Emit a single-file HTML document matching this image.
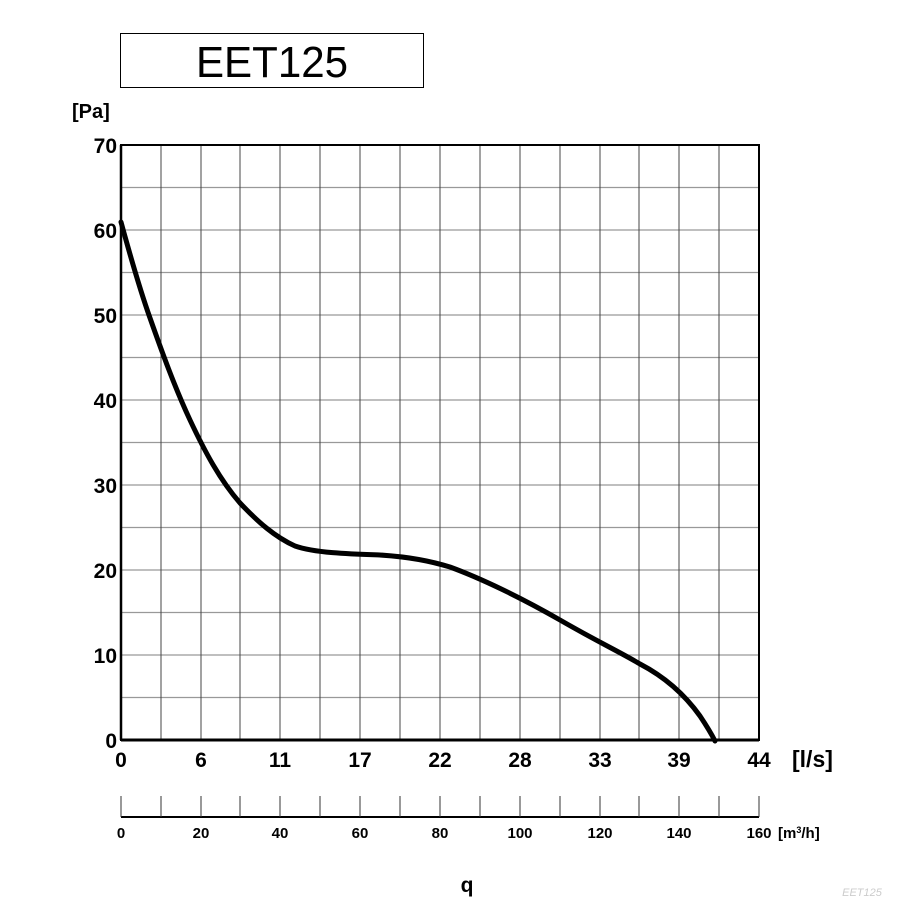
<!DOCTYPE html>
<html><head><meta charset="utf-8"><style>
body{margin:0;background:#fff;width:908px;height:909px;overflow:hidden}
svg{display:block}
text{font-family:"Liberation Sans",sans-serif}
</style></head><body>
<svg width="908" height="909" viewBox="0 0 908 909">
<rect x="120.5" y="33.5" width="303" height="54" fill="#fff" stroke="#000" stroke-width="1"/>
<text x="272" y="77" font-size="44" text-anchor="middle" textLength="152" lengthAdjust="spacingAndGlyphs">EET125</text>
<text x="72" y="118" font-size="20" font-weight="bold">[Pa]</text>
<g stroke="#999" stroke-width="1.2">
<line x1="121" x2="759" y1="187.5" y2="187.5"/><line x1="121" x2="759" y1="230" y2="230"/><line x1="121" x2="759" y1="272.5" y2="272.5"/><line x1="121" x2="759" y1="315" y2="315"/><line x1="121" x2="759" y1="357.5" y2="357.5"/><line x1="121" x2="759" y1="400" y2="400"/><line x1="121" x2="759" y1="442.5" y2="442.5"/><line x1="121" x2="759" y1="485" y2="485"/><line x1="121" x2="759" y1="527.5" y2="527.5"/><line x1="121" x2="759" y1="570" y2="570"/><line x1="121" x2="759" y1="612.5" y2="612.5"/><line x1="121" x2="759" y1="655" y2="655"/><line x1="121" x2="759" y1="697.5" y2="697.5"/>
</g>
<g stroke="#444" stroke-width="1">
<line x1="161" x2="161" y1="145" y2="740"/><line x1="201" x2="201" y1="145" y2="740"/><line x1="240" x2="240" y1="145" y2="740"/><line x1="280" x2="280" y1="145" y2="740"/><line x1="320" x2="320" y1="145" y2="740"/><line x1="360" x2="360" y1="145" y2="740"/><line x1="400" x2="400" y1="145" y2="740"/><line x1="440" x2="440" y1="145" y2="740"/><line x1="480" x2="480" y1="145" y2="740"/><line x1="520" x2="520" y1="145" y2="740"/><line x1="560" x2="560" y1="145" y2="740"/><line x1="600" x2="600" y1="145" y2="740"/><line x1="639" x2="639" y1="145" y2="740"/><line x1="679" x2="679" y1="145" y2="740"/><line x1="719" x2="719" y1="145" y2="740"/>
</g>
<rect x="121" y="145" width="638" height="595" fill="none" stroke="#000" stroke-width="2"/>
<line x1="121" x2="759" y1="740" y2="740" stroke="#000" stroke-width="3"/>
<line x1="121" x2="121" y1="145" y2="740" stroke="#000" stroke-width="2.5"/>
<path d="M121,222 C130,255 140,290 150,318 C162,352 175,388 190,420 C205,452 220,480 240,503 C258,522 275,537 295,546 C315,553 350,554 380,555 C410,557 430,561 450,567 C480,578 520,597 560,620 C600,643 620,652 640,664 C665,677 685,695 700,716 C706,725 711,733 715,741" fill="none" stroke="#000" stroke-width="5" stroke-linecap="round"/>
<g font-size="21" font-weight="bold" text-anchor="end">
<text x="117" y="153">70</text><text x="117" y="238">60</text><text x="117" y="323">50</text><text x="117" y="408">40</text><text x="117" y="493">30</text><text x="117" y="578">20</text><text x="117" y="663">10</text><text x="117" y="748">0</text>
</g>
<g font-size="21" font-weight="bold" text-anchor="middle">
<text x="121" y="767">0</text><text x="201" y="767">6</text><text x="280" y="767">11</text><text x="360" y="767">17</text><text x="440" y="767">22</text><text x="520" y="767">28</text><text x="600" y="767">33</text><text x="679" y="767">39</text><text x="759" y="767">44</text>
</g>
<text x="792" y="767" font-size="23" font-weight="bold">[l/s]</text>
<line x1="121" x2="759" y1="817" y2="817" stroke="#000" stroke-width="2"/>
<g stroke="#333" stroke-width="1">
<line x1="121" x2="121" y1="796" y2="817"/><line x1="161" x2="161" y1="796" y2="817"/><line x1="201" x2="201" y1="796" y2="817"/><line x1="240" x2="240" y1="796" y2="817"/><line x1="280" x2="280" y1="796" y2="817"/><line x1="320" x2="320" y1="796" y2="817"/><line x1="360" x2="360" y1="796" y2="817"/><line x1="400" x2="400" y1="796" y2="817"/><line x1="440" x2="440" y1="796" y2="817"/><line x1="480" x2="480" y1="796" y2="817"/><line x1="520" x2="520" y1="796" y2="817"/><line x1="560" x2="560" y1="796" y2="817"/><line x1="600" x2="600" y1="796" y2="817"/><line x1="639" x2="639" y1="796" y2="817"/><line x1="679" x2="679" y1="796" y2="817"/><line x1="719" x2="719" y1="796" y2="817"/><line x1="759" x2="759" y1="796" y2="817"/>
</g>
<g font-size="15" font-weight="bold" text-anchor="middle">
<text x="121" y="838">0</text><text x="201" y="838">20</text><text x="280" y="838">40</text><text x="360" y="838">60</text><text x="440" y="838">80</text><text x="520" y="838">100</text><text x="600" y="838">120</text><text x="679" y="838">140</text><text x="759" y="838">160</text>
</g>
<text x="778" y="838" font-size="15" font-weight="bold">[m<tspan font-size="9" dy="-5">3</tspan><tspan dy="5">/h]</tspan></text>
<text x="467" y="892" font-size="21" font-weight="bold" text-anchor="middle">q</text>
<text x="862" y="896" font-size="11" fill="#ccc" text-anchor="middle" font-style="italic">EET125</text>
</svg>
</body></html>
